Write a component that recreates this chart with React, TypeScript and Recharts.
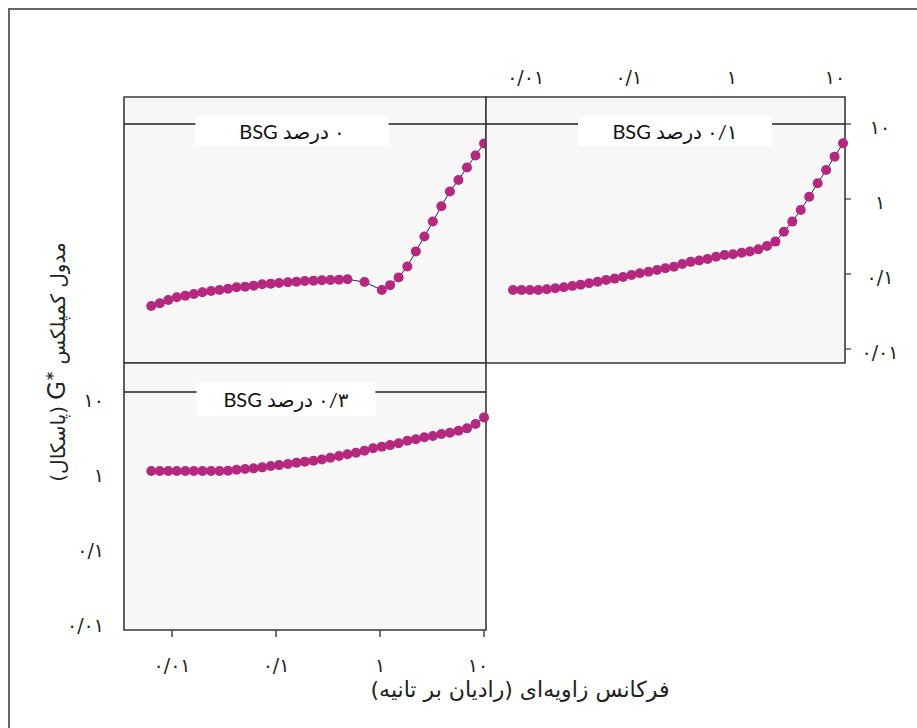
import React from "react";
import {
  LineChart,
  Line,
  XAxis,
  YAxis,
  ReferenceArea,
  ReferenceLine,
} from "recharts";

// angular frequency (rad/s), same sweep for every panel
const FREQ = [
  0.00631, 0.00762, 0.0092, 0.0111, 0.0134, 0.0162, 0.0196, 0.0237, 0.0286, 0.0345,
  0.0417, 0.0504, 0.0609, 0.0736, 0.0889, 0.107, 0.13, 0.157, 0.189, 0.229,
  0.276, 0.333, 0.403, 0.486, 0.587, 0.709, 0.857, 1.04, 1.25, 1.51,
  1.83, 2.21, 2.67, 3.22, 3.89, 4.7, 5.68, 6.86, 8.28, 10,
];

// G* (Pa), 0 % BSG
const G_0 = [
  0.0374, 0.0406, 0.045, 0.0489, 0.0514, 0.054, 0.057, 0.0593, 0.0612, 0.0637,
  0.0664, 0.0677, 0.0699, 0.0728, 0.0743, 0.0759, 0.0775, 0.079, 0.0807, 0.0815,
  0.0824, 0.0832, 0.084, 0.085, null, 0.078, null, 0.061, 0.071, 0.09,
  0.126, 0.2, 0.316, 0.5, 0.8, 1.26, 1.79, 2.63, 3.8, 5.5,
];

// G* (Pa), 0.1 % BSG
const G_01 = [
  0.0612, 0.0612, 0.0612, 0.0612, 0.0625, 0.0644, 0.0664, 0.0692, 0.0721, 0.0751,
  0.079, 0.0832, 0.0867, 0.0912, 0.097, 0.102, 0.107, 0.113, 0.119, 0.125,
  0.136, 0.145, 0.151, 0.158, 0.17, 0.179, 0.183, 0.192, 0.199, 0.213,
  0.236, 0.27, 0.366, 0.499, 0.713, 1.07, 1.62, 2.44, 3.67, 5.52,
];

// G* (Pa), 0.3 % BSG
const G_03 = [
  0.885, 0.885, 0.885, 0.885, 0.885, 0.885, 0.885, 0.885, 0.885, 0.893,
  0.921, 0.94, 0.96, 0.99, 1.03, 1.06, 1.1, 1.14, 1.18, 1.21,
  1.26, 1.33, 1.4, 1.48, 1.55, 1.65, 1.78, 1.87, 1.96, 2.07,
  2.24, 2.34, 2.49, 2.59, 2.75, 2.87, 3.05, 3.28, 3.74, 4.59,
];

const TICKS = [0.01, 0.1, 1, 10];
const TICK_TEXT: Record<string, string> = {
  "0.01": "۰/۰۱",
  "0.1": "۰/۱",
  "1": "۱",
  "10": "۱۰",
};
const PANEL_LABELS = ["۰ درصد BSG", "۰/۱ درصد BSG", "۰/۳ درصد BSG"];
const X_TITLE = "فرکانس زاویه‌ای (رادیان بر تانیه)";
const Y_TITLE_A = "مدول کمپلکس";
const Y_TITLE_B = "(پاسکال)";

const data = FREQ.map((f, i) => ({ f, g0: G_0[i], g01: G_01[i], g03: G_03[i] }));

const X_DOMAIN = [0.00345, 10.45];
const Y_DOMAIN_TOP = [0.0065, 22.9];
const Y_DOMAIN_BOTTOM = [0.0067, 24.4];

const FA_FONT = "'DejaVu Sans', sans-serif";
const PANEL_BG = "#f8f7f7";
const BORDER = "#3a3a3a";
const DOT = "#b6287f";
const LINE = "#1c2b5e";
const TICK_SIZE = 19;

function StripLabel(props: any) {
  const { viewBox, text, cx, w, h } = props;
  const x = viewBox.x + cx;
  const y = viewBox.y + 7;
  return (
    <g>
      <rect x={x - w / 2} y={y - h / 2} width={w} height={h} fill="#ffffff" />
      <text
        x={x}
        y={y}
        textAnchor="middle"
        dominantBaseline="central"
        direction="rtl"
        fontSize={20}
        fontFamily={"Lato, " + FA_FONT}
        fill="#111"
      >
        {text}
      </text>
    </g>
  );
}

function tickText(v: number) {
  return TICK_TEXT[String(v)] ?? String(v);
}

function Panel({ dataKey, label, yDomain, labelCx, labelW, labelH }: any) {
  return [
    <ReferenceArea
      key="bg"
      x1={X_DOMAIN[0]}
      x2={X_DOMAIN[1]}
      y1={yDomain[0]}
      y2={yDomain[1]}
      fill={PANEL_BG}
      fillOpacity={1}
      stroke={BORDER}
      strokeWidth={1.6}
      ifOverflow="visible"
    />,
    <ReferenceLine
      key="strip"
      y={10}
      stroke="#222"
      strokeWidth={1.5}
      label={<StripLabel text={label} cx={labelCx} w={labelW} h={labelH} />}
    />,
    <Line
      key="line"
      type="linear"
      dataKey={dataKey}
      stroke={LINE}
      strokeWidth={1}
      connectNulls
      dot={{ r: 5, fill: DOT, stroke: "none", clipDot: false }}
      activeDot={false}
      isAnimationActive={false}
    />,
  ];
}

export default function App() {
  return (
    <div
      style={{
        position: "absolute",
        left: 0,
        top: 0,
        width: 917,
        height: 728,
        overflow: "hidden",
        background: "#ffffff",
        fontFamily: FA_FONT,
      }}
    >
      <style>{".recharts-surface{overflow:visible}"}</style>
      <div
        style={{
          position: "absolute",
          left: 8,
          top: 8,
          width: 909,
          height: 720,
          boxSizing: "border-box",
          borderTop: "2px solid #666",
          borderLeft: "2px solid #666",
        }}
      />

      {/* top-left: 0 % */}
      <div style={{ position: "absolute", left: 124, top: 97 }}>
        <LineChart width={362} height={266} data={data} margin={{ top: 0, right: 0, bottom: 0, left: 0 }}>
          <XAxis dataKey="f" type="number" scale="log" domain={X_DOMAIN} allowDataOverflow hide />
          <YAxis type="number" scale="log" domain={Y_DOMAIN_TOP} allowDataOverflow hide />
          {Panel({ dataKey: "g0", label: PANEL_LABELS[0], yDomain: Y_DOMAIN_TOP, labelCx: 168, labelW: 193, labelH: 30 })}
        </LineChart>
      </div>

      {/* top-right: 0.1 % */}
      <div style={{ position: "absolute", left: 486, top: 50 }}>
        <LineChart width={420} height={313} data={data} margin={{ top: 0, right: 0, bottom: 0, left: 0 }}>
          <XAxis
            dataKey="f"
            type="number"
            scale="log"
            domain={X_DOMAIN}
            allowDataOverflow
            orientation="top"
            height={47}
            ticks={TICKS}
            axisLine={false}
            tickLine={false}
            tick={(p: any) => (
              <text
                x={p.x - 8}
                y={27}
                textAnchor="middle"
                dominantBaseline="central"
                fontSize={TICK_SIZE}
                fontFamily={FA_FONT}
                fill="#222"
              >
                {tickText(p.payload.value)}
              </text>
            )}
          />
          <YAxis
            type="number"
            scale="log"
            domain={Y_DOMAIN_TOP}
            allowDataOverflow
            orientation="right"
            width={61}
            ticks={TICKS}
            axisLine={false}
            tickLine={{ stroke: BORDER, strokeWidth: 1.2 }}
            tickSize={6}
            tick={(p: any) => (
              <text
                x={394}
                y={p.y + 3}
                textAnchor="middle"
                dominantBaseline="central"
                fontSize={TICK_SIZE}
                fontFamily={FA_FONT}
                fill="#222"
              >
                {tickText(p.payload.value)}
              </text>
            )}
          />
          {Panel({ dataKey: "g01", label: PANEL_LABELS[1], yDomain: Y_DOMAIN_TOP, labelCx: 189, labelW: 194, labelH: 30 })}
        </LineChart>
      </div>

      {/* bottom-left: 0.3 % */}
      <div style={{ position: "absolute", left: 20, top: 363 }}>
        <LineChart width={466} height={317} data={data} margin={{ top: 0, right: 0, bottom: 0, left: 0 }}>
          <XAxis
            dataKey="f"
            type="number"
            scale="log"
            domain={X_DOMAIN}
            allowDataOverflow
            height={50}
            ticks={TICKS}
            axisLine={false}
            tickLine={{ stroke: BORDER, strokeWidth: 1.4 }}
            tickSize={7}
            tick={(p: any) => (
              <text
                x={p.x}
                y={302}
                textAnchor="middle"
                dominantBaseline="central"
                fontSize={TICK_SIZE}
                fontFamily={FA_FONT}
                fill="#222"
              >
                {tickText(p.payload.value)}
              </text>
            )}
          />
          <YAxis
            type="number"
            scale="log"
            domain={Y_DOMAIN_BOTTOM}
            allowDataOverflow
            width={104}
            ticks={TICKS}
            axisLine={false}
            tickLine={false}
            tick={(p: any) => (
              <text
                x={84}
                y={p.y + 8}
                textAnchor="end"
                dominantBaseline="central"
                fontSize={TICK_SIZE}
                fontFamily={FA_FONT}
                fill="#222"
              >
                {tickText(p.payload.value)}
              </text>
            )}
          />
          {Panel({ dataKey: "g03", label: PANEL_LABELS[2], yDomain: Y_DOMAIN_BOTTOM, labelCx: 162, labelW: 179, labelH: 34 })}
        </LineChart>
      </div>

      {/* axis titles */}
      <div
        dir="rtl"
        style={{
          position: "absolute",
          left: 55 - 160,
          top: 362 - 16,
          width: 320,
          height: 32,
          lineHeight: "32px",
          textAlign: "center",
          transform: "rotate(-90deg)",
          fontSize: 20,
          color: "#222",
          whiteSpace: "nowrap",
        }}
      >
        {Y_TITLE_A}{" "}
        <span dir="ltr" style={{ unicodeBidi: "isolate", fontFamily: "Lato, sans-serif", fontSize: 25 }}>
          G*
        </span>{" "}
        {Y_TITLE_B}
      </div>
      <div
        dir="rtl"
        style={{
          position: "absolute",
          left: 520 - 220,
          top: 690 - 16,
          width: 440,
          height: 32,
          lineHeight: "32px",
          textAlign: "center",
          fontSize: 22,
          color: "#222",
          whiteSpace: "nowrap",
        }}
      >
        {X_TITLE}
      </div>
    </div>
  );
}
